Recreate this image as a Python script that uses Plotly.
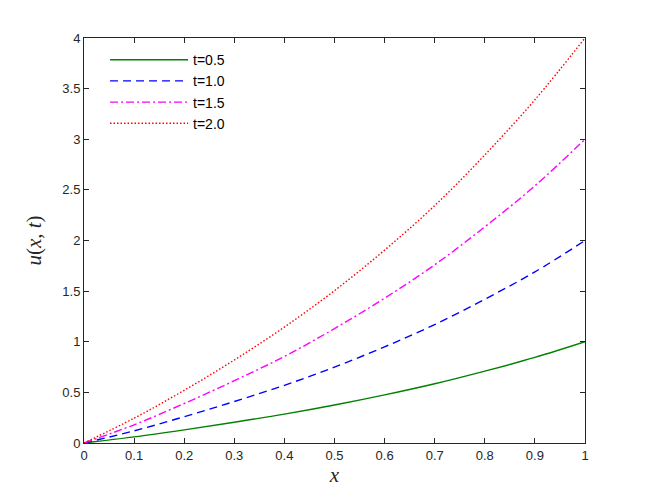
import plotly.graph_objects as go

# values
x_vals = [0, 0.1, 0.2, 0.3, 0.4, 0.5, 0.6, 0.7, 0.8, 0.9, 1.0]
u_t05 = [0, 0.06, 0.13, 0.205, 0.285, 0.375, 0.475, 0.585, 0.71, 0.845, 1.0]
u_t10 = [0, 0.12, 0.26, 0.41, 0.57, 0.75, 0.95, 1.17, 1.42, 1.69, 2.0]
u_t15 = [0, 0.18, 0.39, 0.615, 0.855, 1.13, 1.43, 1.76, 2.135, 2.54, 3.0]
u_t20 = [0, 0.245, 0.52, 0.82, 1.145, 1.505, 1.905, 2.345, 2.845, 3.39, 4.0]
names = ['t=0.5', 't=1.0', 't=1.5', 't=2.0']

series = [u_t05, u_t10, u_t15, u_t20]
colors = ['#008000', '#0000ff', '#ff00ff', '#ff0000']
dashes = ['solid', '8px,5px', '8px,3px,2px,3px', '1.5px,2px']

fig = go.Figure()
for y, name, c, d in zip(series, names, colors, dashes):
    fig.add_trace(go.Scatter(
        x=x_vals, y=y, name=name, mode='lines',
        line=dict(color=c, width=1.4, dash=d, shape='spline'),
    ))

axis_style = dict(
    showgrid=False, zeroline=False,
    showline=True, linecolor='#262626', linewidth=1,
    mirror='ticks', ticks='inside', ticklen=5, tickcolor='#262626',
    tickfont=dict(family='Liberation Sans, Arial', size=13, color='#262626'),
)

# page has an 8px body margin, so margins are shifted by 8px
fig.update_layout(
    width=647, height=497,
    margin=dict(l=76, r=70, t=30, b=62),
    paper_bgcolor='white', plot_bgcolor='white',
    xaxis=dict(range=[0, 1], dtick=0.1, tickformat='~g',
               title=dict(text='<i>x</i>', standoff=4,
                          font=dict(family='Liberation Serif, DejaVu Serif', size=21, color='#262626')),
               **axis_style),
    yaxis=dict(range=[0, 4], dtick=0.5, tickformat='~g',
               title=dict(text='<i>u</i>(<i>x</i>, <i>t</i>)', standoff=14,
                          font=dict(family='Liberation Serif, DejaVu Serif', size=21, color='#262626')),
               **axis_style),
    legend=dict(x=0.042, y=0.985, xanchor='left', yanchor='top',
                bgcolor='rgba(0,0,0,0)', borderwidth=0,
                font=dict(family='Liberation Sans, Arial', size=14, color='black'),
                itemwidth=78, tracegroupgap=0),
)

fig.write_html("out.html")
